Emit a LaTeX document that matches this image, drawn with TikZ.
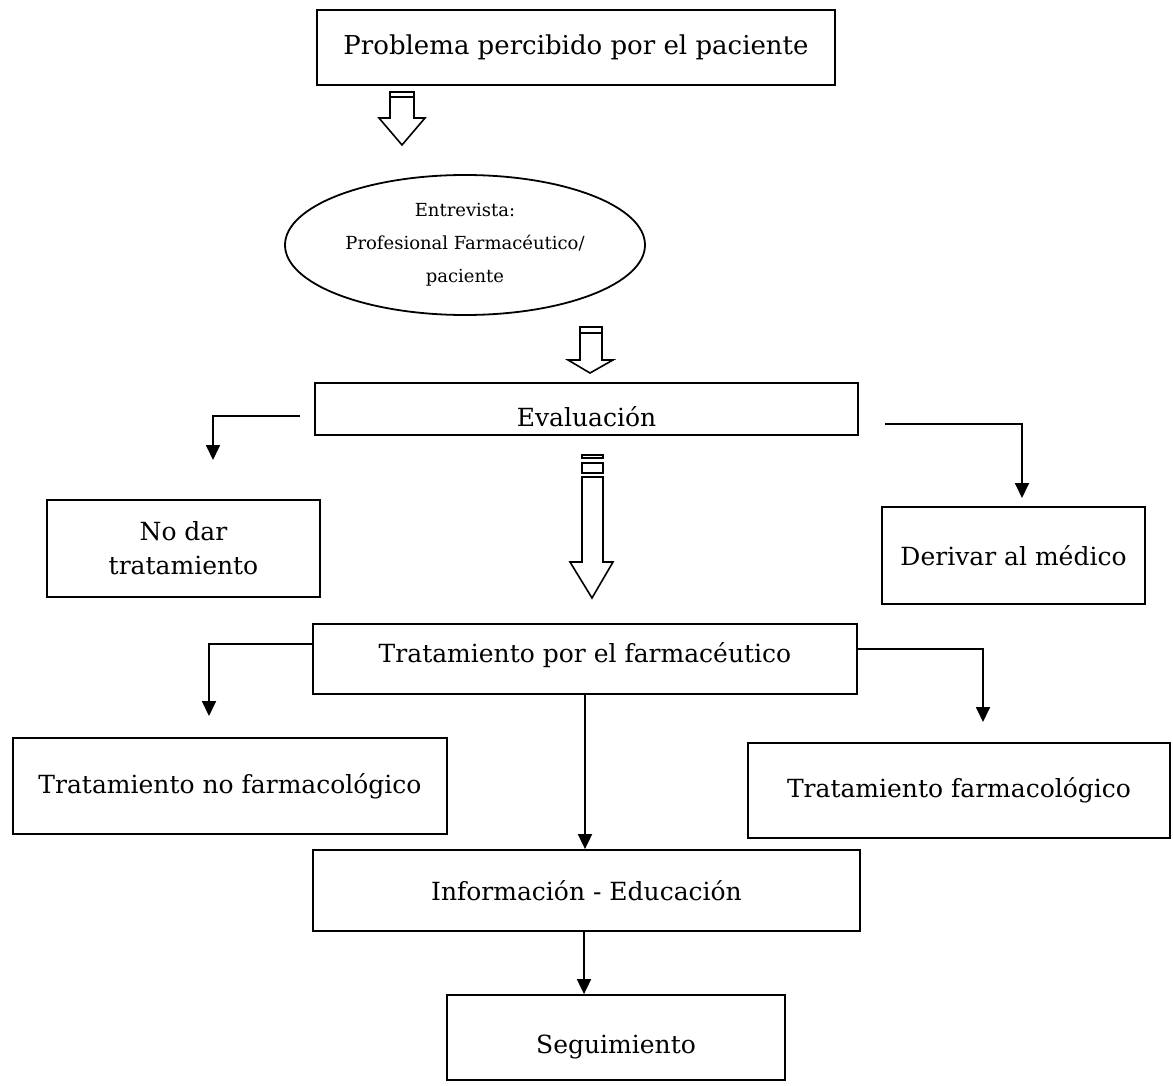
\documentclass[tikz,border=0pt]{standalone}
\usepackage{fontspec}
\setmainfont{DejaVu Serif}
\usetikzlibrary{arrows.meta,shapes.geometric,calc}
% shift a label vertically while keeping its box size
\newcommand{\nudge}[2]{\raisebox{#1}[\height][\depth]{#2}}
\begin{document}
\begin{tikzpicture}[x=0.5pt,y=-0.5pt,
  box/.style={draw,line width=0.9pt,rectangle,inner sep=0pt,align=center,
    font=\fontsize{12.5}{17}\selectfont},
  link/.style={line width=0.9pt,-{Triangle[length=7.5pt,width=7pt]}},
  hollow/.style={draw,line width=0.8pt,fill=white,line join=miter}]
\useasboundingbox (0,0) rectangle (1173,1086);

% boxes
\node[box,minimum width=259pt,minimum height=37.5pt,font=\fontsize{13}{17}\selectfont] (prob) at (576,47.5)
  {Problema percibido por el paciente};
\node[draw,line width=0.9pt,ellipse,minimum width=180pt,minimum height=70pt,
  inner sep=0pt,align=center,font=\fontsize{9}{16.5}\selectfont] (interview) at (465,245)
  {Entrevista:\\Profesional Farmacéutico/\\paciente};
\node[box,minimum width=271.5pt,minimum height=26pt] (eval) at (586.5,409)
  {\nudge{-4pt}{Evaluación}};
\node[box,minimum width=136.5pt,minimum height=48.5pt] (nodar) at (183.5,548.5)
  {No dar\\tratamiento};
\node[box,minimum width=131.5pt,minimum height=48.5pt] (derivar) at (1013.5,555.5)
  {Derivar al médico};
\node[box,minimum width=272pt,minimum height=35pt] (tpf) at (585,659)
  {\nudge{2pt}{Tratamiento por el farmacéutico}};
\node[box,minimum width=217pt,minimum height=48pt] (tnf) at (230,786)
  {Tratamiento no farmacológico};
\node[box,minimum width=211pt,minimum height=47.5pt] (tf) at (959,790.5)
  {Tratamiento farmacológico};
\node[box,minimum width=273.5pt,minimum height=40.5pt] (info) at (586.5,890.5)
  {Información - Educación};
\node[box,minimum width=169pt,minimum height=42.5pt] (seg) at (616,1037.5)
  {\nudge{-4.5pt}{Seguimiento}};

% hollow block arrows
\draw[hollow] (390,92) -- (414,92) -- (414,118) -- (425,118) -- (402,145)
  -- (379,118) -- (390,118) -- cycle;
\draw[line width=0.8pt] (390,97) -- (414,97);

\draw[hollow] (580,327) -- (602,327) -- (602,360) -- (613,360) -- (590,373)
  -- (568,360) -- (580,360) -- cycle;
\draw[line width=0.8pt] (580,333) -- (602,333);

\draw[hollow] (582,455) rectangle (603,458);
\draw[hollow] (582,463) rectangle (603,473);
\draw[hollow] (582,477) -- (603,477) -- (603,562) -- (613,562) -- (592,598)
  -- (570,562) -- (582,562) -- cycle;

% connectors
\coordinate (evL) at (300,416);
\coordinate (evLend) at (213,460);
\draw[link] (evL) -| (evLend);
\coordinate (evR) at (885,424);
\coordinate (evRend) at (1022,498);
\draw[link] (evR) -| (evRend);

\coordinate (tpL) at (313,644);
\coordinate (tpLend) at (209,716);
\draw[link] (tpL) -| (tpLend);
\coordinate (tpR) at (857,649);
\coordinate (tpRend) at (983,722);
\draw[link] (tpR) -| (tpRend);

\draw[link] (tpf.south) -- (tpf.south |- info.north);
\coordinate (isx) at (584,0);
\draw[link] (info.south -| isx) -- (seg.north -| isx);
\end{tikzpicture}
\end{document}
